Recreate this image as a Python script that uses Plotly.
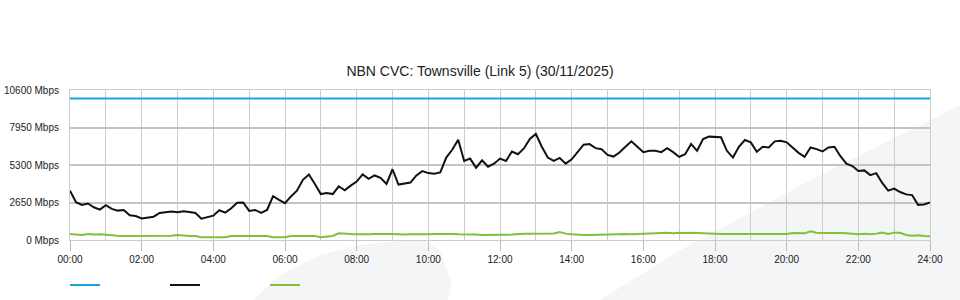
import plotly.graph_objects as go

TITLE = "NBN CVC: Townsville (Link 5) (30/11/2025)"

# 10-minute samples from 00:00 to 24:00 (145 points), Mbps
capacity = [10000] * 145

traffic_in = [
    3485, 2674, 2483, 2578, 2316, 2149, 2459, 2196, 2077, 2125, 1743, 1695,
    1528, 1576, 1647, 1910, 1958, 2006, 1958, 2030, 1982, 1910, 1504, 1624,
    1719, 2100, 1934, 2244, 2626, 2650, 2053, 2125, 1910, 2125, 3103, 2841,
    2602, 3080, 3485, 4249, 4631, 3963, 3247, 3318, 3247, 3796, 3509, 3844,
    4130, 4631, 4321, 4560, 4393, 3963, 5000, 3915, 3987, 4058, 4560, 4870,
    4727, 4679, 4774, 5825, 6374, 7090, 5586, 5753, 5108, 5634, 5180, 5395,
    5753, 5586, 6254, 6063, 6469, 7138, 7496, 6589, 5825, 5586, 5801, 5395,
    5705, 6254, 6732, 6780, 6493, 6421, 6016, 5896, 6183, 6589, 6970, 6589,
    6207, 6302, 6302, 6207, 6493, 6207, 5872, 6063, 6780, 6302, 7138, 7305,
    7257, 7257, 6302, 5825, 6589, 7066, 6899, 6230, 6589, 6541, 6970, 7018,
    6899, 6493, 6159, 5872, 6541, 6421, 6254, 6541, 6589, 5920, 5395, 5228,
    4870, 4918, 4583, 4727, 4034, 3485, 3629, 3390, 3223, 3175, 2483, 2507,
    2650,
]

traffic_out = [
    420, 380, 360, 420, 380, 400, 350, 330, 300, 290, 290, 290,
    290, 290, 290, 290, 290, 300, 360, 300, 290, 290, 200, 190,
    190, 190, 190, 280, 290, 290, 290, 290, 290, 280, 200, 190,
    190, 280, 290, 290, 290, 280, 200, 270, 290, 470, 420, 420,
    410, 380, 400, 420, 400, 420, 430, 400, 380, 400, 420, 400,
    410, 420, 440, 410, 430, 400, 400, 420, 380, 360, 350, 360,
    350, 370, 380, 430, 450, 440, 450, 440, 430, 460, 560, 450,
    400, 360, 350, 350, 370, 350, 360, 420, 420, 430, 410, 420,
    420, 430, 440, 500, 520, 480, 520, 490, 520, 500, 470, 430,
    420, 420, 430, 420, 410, 420, 430, 400, 420, 420, 420, 420,
    430, 500, 510, 470, 620, 520, 500, 510, 540, 500, 480, 430,
    410, 440, 400, 450, 520, 430, 520, 510, 350, 300, 330, 280,
    260,
]

hours = [i / 6 for i in range(145)]

x_tickvals = [0, 2, 4, 6, 8, 10, 12, 14, 16, 18, 20, 22, 24]
x_ticktext = ["00:00", "02:00", "04:00", "06:00", "08:00", "10:00", "12:00",
              "14:00", "16:00", "18:00", "20:00", "22:00", "24:00"]
y_tickvals = [0, 2650, 5300, 7950, 10600]
y_ticktext = ["0 Mbps", "2650 Mbps", "5300 Mbps", "7950 Mbps", "10600 Mbps"]

FONT = "Liberation Sans, Arial, sans-serif"
W, H = 960, 300
L, R, T, B = 70, 30, 90, 60
PW, PH = W - L - R, H - T - B


def px(x):
    return (x - L) / PW


def py(y):
    return (H - B - y) / PH


def path(points, closing=True):
    s = "M " + " L ".join(f"{px(a):.4f},{py(b):.4f}" for a, b in points)
    return s + (" Z" if closing else "")


fig = go.Figure()
fig.add_trace(go.Scatter(x=hours, y=capacity, mode="lines", name=" ",
                         line=dict(color="#1ba1e2", width=2)))
fig.add_trace(go.Scatter(x=hours, y=traffic_in, mode="lines", name=" ",
                         line=dict(color="#111111", width=2)))
fig.add_trace(go.Scatter(x=hours, y=traffic_out, mode="lines", name=" ",
                         line=dict(color="#80c139", width=2)))

shapes = [
    dict(type="path", xref="paper", yref="paper", layer="below",
         path=path([(600, 300), (677, 252), (807, 182), (960, 105), (960, 300)]),
         fillcolor="#f4f5f7", line=dict(width=0)),
    dict(type="path", xref="paper", yref="paper", layer="below",
         path=path([(253, 300), (280, 275), (320, 255), (360, 245), (400, 241),
                    (425, 241), (440, 250), (452, 285), (448, 300)]),
         fillcolor="#f4f5f7", line=dict(width=0)),
]

fig.update_layout(
    width=W, height=H,
    margin=dict(l=L, r=R, t=T, b=B, autoexpand=False),
    paper_bgcolor="white",
    plot_bgcolor="rgba(0,0,0,0)",
    font=dict(family=FONT, size=10, color="#222222"),
    title=dict(text=TITLE, x=0.5, xanchor="center", y=1 - 71 / H, yanchor="middle",
               font=dict(family=FONT, size=14, color="#222222")),
    showlegend=True,
    legend=dict(orientation="h", x=px(65), xanchor="left", y=py(285), yanchor="middle",
                entrywidth=55, entrywidthmode="pixels", itemwidth=30,
                bgcolor="rgba(0,0,0,0)", font=dict(size=10)),
    shapes=shapes,
    xaxis=dict(range=[0, 24], tickvals=x_tickvals, ticktext=x_ticktext,
               showgrid=True, gridcolor="#cccccc", gridwidth=1,
               minor=dict(dtick=1, showgrid=True, gridcolor="#cccccc", gridwidth=1),
               ticks="outside", ticklen=10, tickcolor="#bbbbbb", tickwidth=1,
               showline=True, linecolor="#cccccc", linewidth=1, mirror=True,
               zeroline=False, fixedrange=True, automargin=False),
    yaxis=dict(range=[0, 10600], tickvals=y_tickvals, ticktext=y_ticktext,
               showgrid=True, gridcolor="#c4c4c4", gridwidth=2,
               ticks="", ticklabelstandoff=8,
               showline=True, linecolor="#cccccc", linewidth=1, mirror=True,
               zeroline=False, fixedrange=True, automargin=False),
)

fig.write_html("out.html")
